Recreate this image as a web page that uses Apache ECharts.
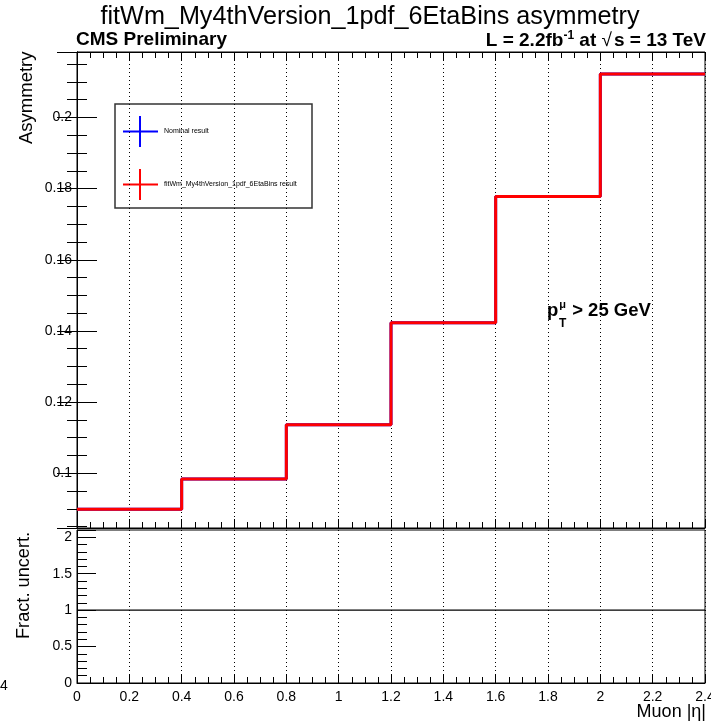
<!DOCTYPE html>
<html>
<head>
<meta charset="UTF-8">
<title>asymmetry</title>
<style>
  * { margin: 0; padding: 0; }
  body { background: #fff; }
  #charts { width: 711px; height: 723px; }
</style>
</head>
<body>
<div id="charts"></div>
<script src="https://cdn.jsdelivr.net/npm/echarts@6/dist/echarts.min.js"></script>
<script>
// bin edges in muon |eta|
var binEdges = [0, 0.4, 0.8, 1.2, 1.6, 2.0, 2.4];
// asymmetry per bin
var nominalVals = [0.0899, 0.0984, 0.1136, 0.1423, 0.1778, 0.2122];
var variantVals = [0.0899, 0.0984, 0.1136, 0.1423, 0.1778, 0.2122];
// fractional uncertainty ratio per bin
var ratioVals = [1, 1, 1, 1, 1, 1];

var FONT = 'Liberation Sans';

// histogram -> step points
function steps(vals) {
  var pts = [];
  for (var i = 0; i < vals.length; i++) pts.push([binEdges[i], vals[i]]);
  pts.push([binEdges[binEdges.length - 1], vals[vals.length - 1]]);
  return pts;
}

var mycharts = echarts.init(document.getElementById('charts'));

var xBase = {
  type: 'value', min: 0, max: 2.4, interval: 0.2,
  axisLine: { show: true, lineStyle: { color: '#000' } },
  axisTick: { inside: true, length: 9, lineStyle: { color: '#000' } },
  minorTick: { show: true, splitNumber: 4, length: 6, lineStyle: { color: '#000' } },
  splitLine: { show: false }
};

var option = {
  animation: false,
  textStyle: { fontFamily: FONT },
  grid: [
    { left: 77, top: 52, width: 628, height: 476, show: true, borderColor: '#000', borderWidth: 1, outerBoundsMode: 'none' },
    { left: 77, top: 530, width: 628, height: 153, show: true, borderColor: '#000', borderWidth: 1, outerBoundsMode: 'none' }
  ],
  xAxis: [
    Object.assign({}, xBase, { gridIndex: 0, position: 'bottom', axisLabel: { show: false },
      splitLine: { show: true, lineStyle: { color: '#000', type: [1, 3], width: 1 } } }),
    Object.assign({}, xBase, { gridIndex: 0, position: 'top', axisLabel: { show: false } }),
    Object.assign({}, xBase, { gridIndex: 1, position: 'bottom',
      axisLabel: { show: true, color: '#000', fontSize: 14, fontFamily: FONT, margin: 7 },
      splitLine: { show: true, lineStyle: { color: '#000', type: [1, 3], width: 1 } } })
  ],
  yAxis: [
    {
      gridIndex: 0, type: 'value', min: 0.0846, max: 0.2184, splitNumber: 7, position: 'left',
      axisLine: { show: true, lineStyle: { color: '#000' } },
      axisTick: { inside: true, length: 20, lineStyle: { color: '#000' } },
      minorTick: { show: true, splitNumber: 4, length: 10, lineStyle: { color: '#000' } },
      axisLabel: { color: '#000', fontSize: 14, fontFamily: FONT, margin: 5, showMinLabel: false, showMaxLabel: false,
        formatter: function (v) { return String(+v.toFixed(3)); } },
      splitLine: { show: false }
    },
    {
      gridIndex: 0, type: 'value', min: 0.0846, max: 0.2184, splitNumber: 7, position: 'right',
      axisLine: { show: true, lineStyle: { color: '#000' } },
      axisTick: { inside: true, length: 20, lineStyle: { color: '#000' } },
      minorTick: { show: true, splitNumber: 4, length: 10, lineStyle: { color: '#000' } },
      axisLabel: { show: false },
      splitLine: { show: false }
    },
    {
      gridIndex: 1, type: 'value', min: 0, max: 2.1, interval: 0.5, position: 'left',
      axisLine: { show: true, lineStyle: { color: '#000' } },
      axisTick: { inside: true, length: 19, lineStyle: { color: '#000' } },
      minorTick: { show: true, splitNumber: 5, length: 10, lineStyle: { color: '#000' } },
      axisLabel: { color: '#000', fontSize: 14, fontFamily: FONT, margin: 5, showMaxLabel: false },
      splitLine: { show: false }
    }
  ],
  series: [
    {
      name: 'Nominal result', type: 'line', xAxisIndex: 0, yAxisIndex: 0, step: 'end',
      showSymbol: false, data: steps(nominalVals),
      lineStyle: { color: '#0000ff', width: 3 }
    },
    {
      name: 'fitWm_My4thVersion_1pdf_6EtaBins result', type: 'line', xAxisIndex: 0, yAxisIndex: 0, step: 'end',
      showSymbol: false, data: steps(variantVals),
      lineStyle: { color: '#ff0000', width: 3 }
    },
    {
      name: 'ratio', type: 'line', xAxisIndex: 2, yAxisIndex: 2, step: 'end',
      showSymbol: false, data: steps(ratioVals),
      lineStyle: { color: '#000', width: 1.2 }
    }
  ],
  graphic: [
    { type: 'text', x: 370, y: 5, style: { text: 'fitWm_My4thVersion_1pdf_6EtaBins asymmetry', font: '25.2px "Liberation Sans"', fill: '#000', align: 'center' } },
    { type: 'text', x: 76, y: 30, style: { text: 'CMS Preliminary', font: 'bold 19px "Liberation Sans"', fill: '#000' } },
    { type: 'text', x: 706, y: 30, style: {
        text: '{a|L = 2.2fb}{s|-1}{a| at }{r|√}{a|s = 13 TeV}', align: 'right',
        rich: {
          a: { font: 'bold 19px "Liberation Sans"', fill: '#000' },
          r: { font: '19px "Liberation Sans"', fill: '#000', padding: [0, 2, 0, 0] },
          s: { font: 'bold 12px "Liberation Sans"', fill: '#000', verticalAlign: 'top', padding: [0, 0, 9, 0] }
        } } },
    { type: 'text', x: 17, y: 144, rotation: Math.PI / 2, style: { text: 'Asymmetry', font: '18.5px "Liberation Sans"', fill: '#000' } },
    { type: 'text', x: 15, y: 639, rotation: Math.PI / 2, style: { text: 'Fract. uncert.', font: '18.2px "Liberation Sans"', fill: '#000' } },
    { type: 'text', x: 706, y: 703, style: { text: 'Muon |η|', font: '18px "Liberation Sans"', fill: '#000', align: 'right' } },
    { type: 'text', x: 0, y: 679, style: { text: '4', font: '14px "Liberation Sans"', fill: '#000' } },
    { type: 'text', x: 547, y: 299, style: {
        text: '{a|p}{b|μ}{a| > 25 GeV}',
        rich: {
          a: { font: 'bold 18.5px "Liberation Sans"', fill: '#000' },
          b: { font: 'bold 11px "Liberation Sans"', fill: '#000', padding: [0, 1, 13, 1] }
        } } },
    { type: 'text', x: 559, y: 318, style: { text: 'T', font: 'bold 12px "Liberation Sans"', fill: '#000' } },
    // legend box
    { type: 'rect', shape: { x: 115, y: 104, width: 197, height: 104 }, style: { fill: '#fff', stroke: '#333', lineWidth: 1.5 } },
    { type: 'line', shape: { x1: 123, y1: 131.5, x2: 158, y2: 131.5 }, style: { stroke: '#0000ff', lineWidth: 2 } },
    { type: 'line', shape: { x1: 140, y1: 116, x2: 140, y2: 147 }, style: { stroke: '#0000ff', lineWidth: 2 } },
    { type: 'text', x: 164, y: 127.5, style: { text: 'Nominal result', font: '7px "Liberation Sans"', fill: '#000' } },
    { type: 'line', shape: { x1: 123, y1: 184.5, x2: 158, y2: 184.5 }, style: { stroke: '#ff0000', lineWidth: 2 } },
    { type: 'line', shape: { x1: 140, y1: 169, x2: 140, y2: 200 }, style: { stroke: '#ff0000', lineWidth: 2 } },
    { type: 'text', x: 164, y: 180.5, style: { text: 'fitWm_My4thVersion_1pdf_6EtaBins result', font: '7px "Liberation Sans"', fill: '#000' } }
  ]
};

mycharts.setOption(option);
</script>
</body>
</html>
